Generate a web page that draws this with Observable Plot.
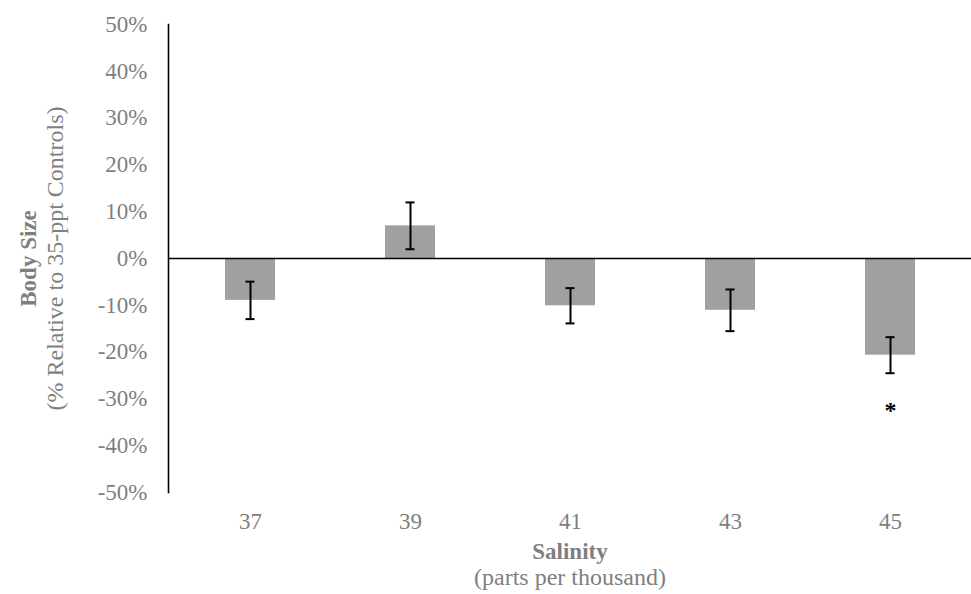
<!DOCTYPE html>
<html>
<head>
<meta charset="utf-8">
<script src="https://cdn.jsdelivr.net/npm/d3@7"></script>
<script src="https://cdn.jsdelivr.net/npm/@observablehq/plot@0.6"></script>
<style>
  html, body { margin: 0; padding: 0; background: #fff; }
  #chart svg { display: block; }
</style>
</head>
<body>
<div id="chart"></div>
<script>
const categories = ["37", "39", "41", "43", "45"];
const means = [-8.95, 6.98, -10.1, -11.07, -20.66];
const errors = [4.0, 5.0, 3.77, 4.45, 3.85];
const significance = ["", "", "", "", "*"];
const yTicks = [-50, -40, -30, -20, -10, 0, 10, 20, 30, 40, 50];

const data = categories.map((c, i) => ({
  cat: c, mean: means[i], err: errors[i], sig: significance[i]
}));

const gray = "#7f7f7f";
const font = "'Liberation Serif', 'Times New Roman', serif";

const chart = Plot.plot({
  width: 971,
  height: 594,
  marginLeft: 168,
  marginRight: 0,
  marginTop: 24,
  marginBottom: 102,
  style: { fontFamily: font, fontSize: "23px", color: gray, background: "#fff", overflow: "visible" },
  x: { domain: categories, paddingInner: 0.69, paddingOuter: 0.345, label: null },
  y: { domain: [-50, 50], label: null },
  marks: [
    Plot.barY(data, { x: "cat", y: "mean", fill: "#a0a0a0" }),
    Plot.ruleY([0], { stroke: "#000", strokeWidth: 1.6 }),
    Plot.frame({ anchor: "left", stroke: "#000", strokeWidth: 1.6 }),
    Plot.ruleX(data, { x: "cat", y1: d => d.mean - d.err, y2: d => d.mean + d.err, stroke: "#000", strokeWidth: 2 }),
    Plot.tickY(data, { x: "cat", y: d => d.mean + d.err, stroke: "#000", strokeWidth: 2, insetLeft: 20.5, insetRight: 20.5 }),
    Plot.tickY(data, { x: "cat", y: d => d.mean - d.err, stroke: "#000", strokeWidth: 2, insetLeft: 20.5, insetRight: 20.5 }),
    Plot.text(data.filter(d => d.sig), { x: "cat", y: d => d.mean - d.err, text: "sig", dy: 37, fill: "#000", fontWeight: "bold", fontSize: 24 }),
    Plot.axisY({ ticks: yTicks, tickSize: 0, tickPadding: 21, tickFormat: d => d + "%", fill: gray, fontSize: 23 }),
    Plot.axisX({ tickSize: 0, tickPadding: 20, fill: gray, fontSize: 23 }),
    Plot.text(["Salinity"], { frameAnchor: "bottom", dy: 66, fill: gray, fontWeight: "bold", fontSize: 23 }),
    Plot.text(["(parts per thousand)"], { frameAnchor: "bottom", dy: 92, fill: gray, fontSize: 24 }),
    Plot.text(["Body Size"], { frameAnchor: "left", textAnchor: "middle", dx: -140, rotate: -90, fill: gray, fontWeight: "bold", fontSize: 23 }),
    Plot.text(["(% Relative to 35-ppt Controls)"], { frameAnchor: "left", textAnchor: "middle", dx: -113, rotate: -90, fill: gray, fontSize: 24 })
  ]
});

document.getElementById("chart").appendChild(chart);
</script>
</body>
</html>
